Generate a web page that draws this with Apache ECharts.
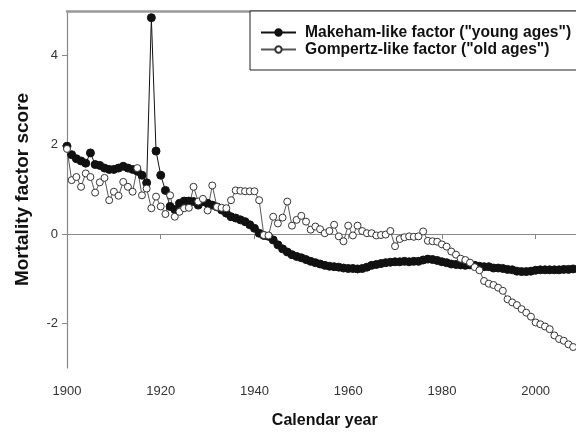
<!DOCTYPE html>
<html>
<head>
    <meta charset="utf-8">
    <title>Mortality factors</title>
    <script src="https://cdn.jsdelivr.net/npm/echarts@6/dist/echarts.min.js"></script>
    <style>
        html, body { margin: 0; padding: 0; overflow: hidden; background: #fff; }
    </style>
</head>
<body>
    <div id="main" style="width:600px; height:434px;"></div>

    <script type="text/javascript">

        var years = [
            1900, 1901, 1902, 1903, 1904, 1905, 1906, 1907, 1908, 1909,
            1910, 1911, 1912, 1913, 1914, 1915, 1916, 1917, 1918, 1919,
            1920, 1921, 1922, 1923, 1924, 1925, 1926, 1927, 1928, 1929,
            1930, 1931, 1932, 1933, 1934, 1935, 1936, 1937, 1938, 1939,
            1940, 1941, 1942, 1943, 1944, 1945, 1946, 1947, 1948, 1949,
            1950, 1951, 1952, 1953, 1954, 1955, 1956, 1957, 1958, 1959,
            1960, 1961, 1962, 1963, 1964, 1965, 1966, 1967, 1968, 1969,
            1970, 1971, 1972, 1973, 1974, 1975, 1976, 1977, 1978, 1979,
            1980, 1981, 1982, 1983, 1984, 1985, 1986, 1987, 1988, 1989,
            1990, 1991, 1992, 1993, 1994, 1995, 1996, 1997, 1998, 1999,
            2000, 2001, 2002, 2003, 2004, 2005, 2006, 2007, 2008
        ];

        // "young ages" factor (filled dots)
        var makeham = [
            1.97, 1.78, 1.69, 1.64, 1.59, 1.82, 1.56, 1.54, 1.48, 1.45,
            1.45, 1.48, 1.52, 1.48, 1.45, 1.41, 1.32, 1.15, 4.85, 1.86,
            1.32, 0.98, 0.62, 0.55, 0.69, 0.74, 0.74, 0.73, 0.65, 0.73,
            0.69, 0.65, 0.61, 0.54, 0.47, 0.39, 0.36, 0.32, 0.28, 0.21,
            0.13, 0.02, -0.03, -0.05, -0.13, -0.24, -0.33, -0.40, -0.46, -0.50,
            -0.53, -0.57, -0.61, -0.64, -0.67, -0.70, -0.72, -0.73, -0.74, -0.76,
            -0.77, -0.77, -0.78, -0.77, -0.74, -0.70, -0.68, -0.66, -0.64, -0.63,
            -0.62, -0.62, -0.61, -0.62, -0.61, -0.61, -0.58, -0.56, -0.57, -0.59,
            -0.62, -0.64, -0.67, -0.68, -0.69, -0.70, -0.69, -0.70, -0.72, -0.73,
            -0.73, -0.76, -0.76, -0.77, -0.79, -0.80, -0.83, -0.84, -0.84, -0.83,
            -0.81, -0.80, -0.80, -0.80, -0.80, -0.80, -0.79, -0.79, -0.78
        ];

        // "old ages" factor (open dots)
        var gompertz = [
            1.91, 1.21, 1.28, 1.06, 1.36, 1.28, 0.93, 1.16, 1.26, 0.76,
            0.95, 0.86, 1.17, 1.06, 0.95, 1.48, 0.87, 1.02, 0.58, 0.84,
            0.62, 0.45, 0.87, 0.39, 0.50, 0.58, 0.59, 1.06, 0.73, 0.79,
            0.53, 1.09, 0.61, 0.59, 0.58, 0.76, 0.98, 0.97, 0.96, 0.96,
            0.96, 0.76, -0.02, -0.03, 0.39, 0.24, 0.37, 0.73, 0.19, 0.32,
            0.41, 0.28, 0.10, 0.17, 0.11, 0.02, 0.07, 0.21, -0.05, -0.16,
            0.19, -0.03, 0.19, 0.07, 0.02, 0.02, -0.03, -0.02, -0.01, 0.07,
            -0.27, -0.11, -0.07, -0.05, -0.06, -0.05, 0.06, -0.15, -0.16, -0.17,
            -0.23, -0.28, -0.39, -0.46, -0.55, -0.58, -0.64, -0.74, -0.81, -1.05,
            -1.11, -1.14, -1.20, -1.27, -1.46, -1.53, -1.59, -1.68, -1.76, -1.85,
            -1.98, -2.02, -2.07, -2.13, -2.27, -2.35, -2.39, -2.47, -2.53
        ];

        var xTicks = [1900, 1920, 1940, 1960, 1980, 2000];
        var yTicks = [-2, 0, 2, 4];

        function pairs(xs, ys) {
            return xs.map(function(x, i) { return [x, ys[i]]; });
        }

        var font = 'Liberation Sans, Arial, sans-serif';
        var myChart = echarts.init(document.getElementById('main'));

        myChart.setOption({
            animation: false,
            textStyle: { fontFamily: font },
            grid: {
                left: 67,
                right: 17.5,
                top: 11,
                bottom: 63
            },
            legend: {
                orient: 'vertical',
                left: 250,
                top: 11,
                padding: [13, 40, 12, 10],
                itemGap: 0,
                itemWidth: 35,
                itemHeight: 8,
                backgroundColor: '#fff',
                borderColor: '#222',
                borderWidth: 1,
                borderRadius: 0,
                textStyle: {
                    fontFamily: font,
                    fontSize: 15.6,
                    fontWeight: 'bold',
                    color: '#111',
                    lineHeight: 17,
                    padding: [0, 0, 0, 4]
                },
                data: ['Makeham-like factor ("young ages")', 'Gompertz-like factor ("old ages")']
            },
            xAxis: [
                {
                    type: 'value',
                    min: 1900,
                    max: 2010,
                    name: 'Calendar year',
                    nameLocation: 'middle',
                    nameGap: 45,
                    nameTextStyle: { fontSize: 16, fontWeight: 'bold', color: '#111', fontFamily: font },
                    axisLine: { lineStyle: { color: '#888', width: 1.2 } },
                    axisTick: { customValues: xTicks, length: 5, lineStyle: { color: '#888' } },
                    axisLabel: {
                        customValues: xTicks, fontSize: 13, color: '#333', margin: 17, fontFamily: font,
                        formatter: function(value) { return String(value); }
                    },
                    splitLine: { show: false }
                },
                {
                    type: 'value',
                    position: 'top',
                    min: 1900,
                    max: 2010,
                    axisLine: { show: true, lineStyle: { color: '#999', width: 2.5 } },
                    axisTick: { show: false },
                    axisLabel: { show: false },
                    splitLine: { show: false }
                }
            ],
            yAxis: {
                type: 'value',
                min: -3,
                max: 5,
                name: 'Mortality factor score',
                nameLocation: 'middle',
                nameGap: 35,
                nameTextStyle: { fontSize: 19, fontWeight: 'bold', color: '#111', fontFamily: font },
                axisLine: { show: true, lineStyle: { color: '#888', width: 1.2 } },
                axisTick: { show: true, customValues: yTicks, length: 5, lineStyle: { color: '#888' } },
                axisLabel: { customValues: yTicks, fontSize: 13, color: '#333', margin: 9, fontFamily: font },
                splitLine: { show: false }
            },
            series: [
                {
                    name: 'Makeham-like factor ("young ages")',
                    type: 'line',
                    data: pairs(years, makeham),
                    symbol: 'circle',
                    symbolSize: 8,
                    showAllSymbol: true,
                    lineStyle: { color: '#111', width: 1 },
                    itemStyle: { color: '#111', borderColor: '#111', borderWidth: 1 }
                },
                {
                    name: 'Gompertz-like factor ("old ages")',
                    type: 'line',
                    data: pairs(years, gompertz),
                    symbol: 'circle',
                    symbolSize: 7,
                    showAllSymbol: true,
                    lineStyle: { color: '#555', width: 1 },
                    itemStyle: { color: '#fff', borderColor: '#333', borderWidth: 1 }
                }
            ]
        });
    </script>
</body>
</html>
